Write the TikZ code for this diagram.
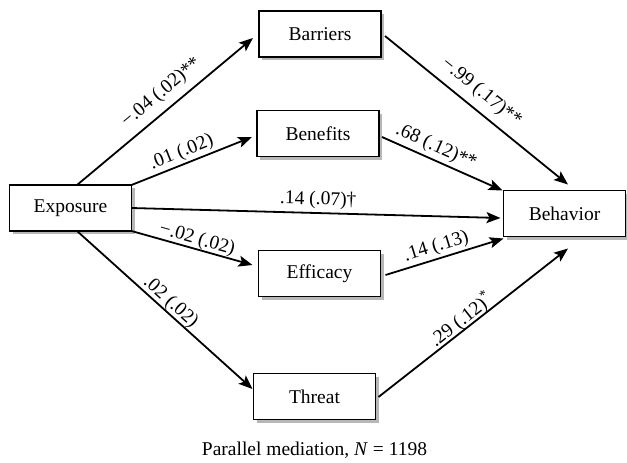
\documentclass[tikz,border=0pt]{standalone}
\usepackage{fontspec}
\setmainfont{Liberation Serif}
\usetikzlibrary{arrows.meta,shadows}
\begin{document}
\begin{tikzpicture}[x=1pt,y=-1pt,
  box/.style={draw, line width=1.9pt, fill=white, minimum width=122pt, minimum height=46pt,
    inner sep=0pt, outer sep=0pt, font=\fontsize{19.5}{22}\selectfont,
    drop shadow={shadow xshift=3pt, shadow yshift=-3pt, opacity=0.4, fill=black!70}},
  arr/.style={line width=1.8pt, -{Stealth[length=14pt,width=11pt,inset=3pt]}},
  lbl/.style={sloped, inner sep=0pt, anchor=center, font=\fontsize{19.5}{22}\selectfont},
  captxt/.style={font=\fontsize{19.5}{22}\selectfont, inner sep=0pt}]
\useasboundingbox (0,0) rectangle (627,463);
\node[box] (bar) at (320,34) {Barriers};
\node[box] (ben) at (318,133.5) {Benefits};
\node[box] (exp) at (70.5,208) {Exposure};
\node[box] (beh) at (564.5,213.5) {Behavior};
\node[box] (eff) at (319.5,273.5) {Efficacy};
\node[box] (thr) at (314.5,396.5) {Threat};
\draw[arr] ([shift={(6.5,0)}]exp.north) -- node[lbl, pos=0.541, yshift=16.8pt] {−.04 (.02)**} ([shift={(-6,4)}]bar.west);
\draw[arr] (exp.north east) -- node[lbl, pos=0.452, yshift=11.6pt] {.01 (.02)} ([shift={(-5,3.5)}]ben.west);
\draw[arr] (exp.east) -- node[lbl, pos=0.505, yshift=13pt] {.14 (.07)†} ([shift={(-3,4.5)}]beh.west);
\draw[arr] (exp.south east) -- node[lbl, pos=0.521, yshift=9.5pt] {−.02 (.02)} ([shift={(-6,-8.5)}]eff.west);
\draw[arr] ([shift={(6.5,0)}]exp.south) -- node[lbl, pos=0.497, yshift=9.6pt] {.02 (.02)} ([shift={(-1,-7.5)}]thr.west);
\draw[arr] ([shift={(4,2)}]bar.east) -- node[lbl, pos=0.468, yshift=17pt] {−.99 (.17)**} ([shift={(3.5,-6)}]beh.north);
\draw[arr] ([shift={(3,3.5)}]ben.east) -- node[lbl, pos=0.407, yshift=12.7pt] {.68 (.12)**} ([shift={(-1,0)}]beh.north west);
\draw[arr] ([shift={(5,1.5)}]eff.east) -- node[lbl, pos=0.461, yshift=11.9pt] {.14 (.13)} ([shift={(0,2)}]beh.south west);
\draw[arr] ([shift={(3,0.5)}]thr.east) -- node[lbl, pos=0.468, yshift=9.8pt] {.29 (.12)\textsuperscript{*}} ([shift={(3.5,12)}]beh.south);
\node[captxt] (caption) at (314.5,450) {Parallel mediation, \textit{N} = 1198};
\end{tikzpicture}
\end{document}
